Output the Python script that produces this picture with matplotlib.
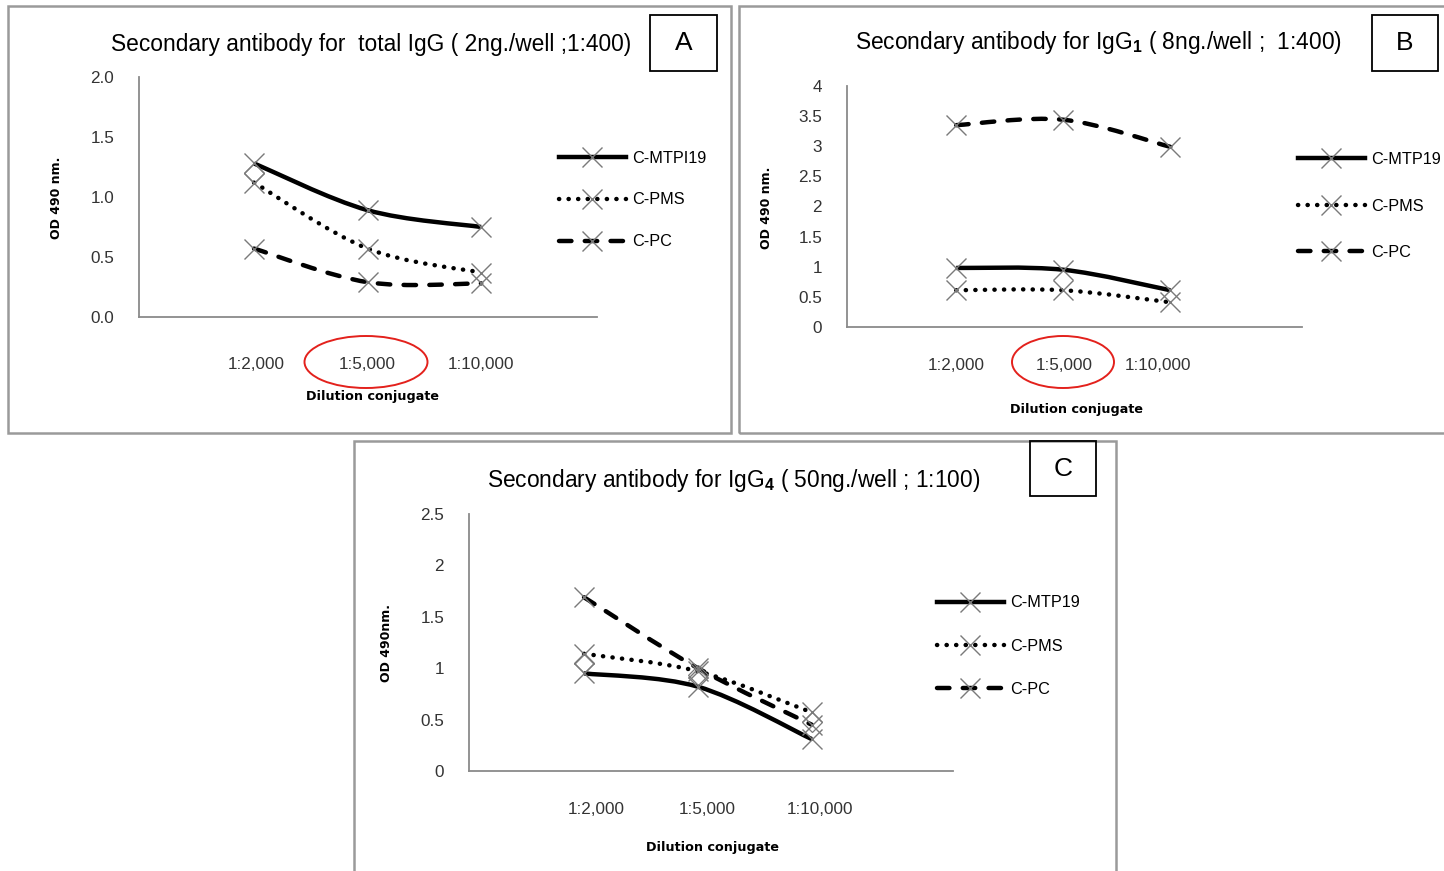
import numpy as np
import matplotlib
matplotlib.use("Agg")
import matplotlib.pyplot as plt
from matplotlib.path import Path
from matplotlib.patches import PathPatch, Rectangle, Ellipse
from matplotlib.lines import Line2D
from matplotlib.transforms import ScaledTranslation

plt.rcParams['font.family'] = ['Liberation Sans', 'DejaVu Sans']
plt.rcParams['mathtext.fontset'] = 'custom'
plt.rcParams['mathtext.rm'] = 'Liberation Sans'
plt.rcParams['mathtext.bf'] = 'Liberation Sans:bold'

dilutions = ['1:2,000', '1:5,000', '1:10,000']

# OD 490 nm readings, panel A (total IgG)
a_mtpi19 = [1.28, 0.89, 0.75]
a_pms = [1.12, 0.57, 0.37]
a_pc = [0.57, 0.29, 0.28]
a_extra = [1.20, None, None]

# panel B (IgG1)
b_mtp19 = [0.98, 0.95, 0.61]
b_pms = [0.61, 0.61, 0.41]
b_pc = [3.35, 3.44, 2.99]

# panel C (IgG4)
c_mtp19 = [0.95, 0.82, 0.31]
c_pms = [1.14, 0.97, 0.57]
c_pc = [1.69, 1.00, 0.45]
c_extra = [1.05, 0.93, 0.48]

W, H = 1444, 871
fig = plt.figure(figsize=(W / 100, H / 100), dpi=100)
fig.patch.set_facecolor('white')

styles = {
    'solid': dict(linestyle='-', capstyle='butt'),
    'dot': dict(linestyle=(0, (0.05, 2.1)), capstyle='round'),
    'dash': dict(linestyle=(0, (2.8, 3.0)), capstyle='round'),
}
LW = 3.2
MARK = dict(marker='x', markersize=14, markeredgewidth=1.0, markeredgecolor='#7a7a7a')
TITLE_FS = 16.4
TICK_FS = 12.3
LEG_FS = 11.7


def px_rect(l, t, r, b):
    return [l / W, 1 - b / H, (r - l) / W, (b - t) / H]


def smooth_path(xs, ys):
    pts = np.column_stack([xs, ys]).astype(float)
    n = len(pts)
    verts = [pts[0]]
    codes = [Path.MOVETO]
    for i in range(n - 1):
        p0 = pts[max(i - 1, 0)]
        p1 = pts[i]
        p2 = pts[i + 1]
        p3 = pts[min(i + 2, n - 1)]
        verts += [p1 + (p2 - p0) / 6, p2 - (p3 - p1) / 6, p2]
        codes += [Path.CURVE4] * 3
    return Path(verts, codes)


def draw_series(ax, ys, style):
    xs = np.arange(len(ys))
    patch = PathPatch(smooth_path(xs, ys), fill=False, edgecolor='black',
                      linewidth=LW, joinstyle='round', **styles[style])
    ax.add_patch(patch)
    ax.plot(xs, ys, linestyle='none', zorder=3, **MARK)


def legend_handle(style):
    s = styles[style]
    return Line2D([], [], color='black', linewidth=LW, linestyle=s['linestyle'],
                  dash_capstyle=s['capstyle'], **MARK)


def panel(rect, xlim, ylim, yticks, ylabels, xpad, series, names, leg_xy, leg_space,
          label_shift=(0, 0, 0)):
    ax = fig.add_axes(px_rect(*rect))
    for ys, st in series:
        draw_series(ax, ys, st)
    ax.set_xlim(*xlim)
    ax.set_ylim(*ylim)
    ax.set_xticks([0, 1, 2], dilutions)
    ax.set_yticks(yticks, ylabels)
    ax.tick_params(length=0, labelsize=TICK_FS, labelcolor='#333333')
    ax.tick_params(axis='x', pad=xpad)
    ax.tick_params(axis='y', pad=18)
    # nudge category labels sideways
    for lab, dx in zip(ax.get_xticklabels(), label_shift):
        lab.set_transform(lab.get_transform() + ScaledTranslation(dx / 100, 0, fig.dpi_scale_trans))
    for side in ('top', 'right'):
        ax.spines[side].set_visible(False)
    for side in ('left', 'bottom'):
        ax.spines[side].set_color('#8a8a8a')
        ax.spines[side].set_linewidth(1.3)
    handles = [legend_handle(st) for _, st in series[:3]]
    ax.legend(handles, names, loc='center left', numpoints=1,
              bbox_to_anchor=(leg_xy[0] / W, 1 - leg_xy[1] / H),
              bbox_transform=fig.transFigure, frameon=False, fontsize=LEG_FS,
              handlelength=4.1, handletextpad=0.4, labelspacing=leg_space,
              borderpad=0, borderaxespad=0)
    return ax


def frame(l, t, r, b, color='#9a9a9a', lw=1.8):
    fig.patches.append(Rectangle((l / W, 1 - b / H), (r - l) / W, (b - t) / H,
                                 transform=fig.transFigure, fill=False,
                                 edgecolor=color, linewidth=lw))


def label_box(l, t, r, b, letter):
    frame(l, t, r, b, color='black', lw=1.3)
    fig.text((l + r) / 2 / W, 1 - (t + b) / 2 / H, letter, ha='center', va='center',
             fontsize=19)


def red_ring(cx, cy, w, h):
    fig.patches.append(Ellipse((cx / W, 1 - cy / H), w / W, h / H,
                               transform=fig.transFigure, fill=False,
                               edgecolor='#e3211c', linewidth=1.4))


def side_labels(ylab, ylab_xy, xlab_xy):
    fig.text(ylab_xy[0] / W, 1 - ylab_xy[1] / H, ylab, rotation=90, ha='center',
             va='center', fontsize=9, fontweight='bold', family='DejaVu Sans')
    fig.text(xlab_xy[0] / W, 1 - xlab_xy[1] / H, 'Dilution conjugate', ha='center',
             va='center', fontsize=9.2, fontweight='bold', family='DejaVu Sans')


# panel outlines
frame(8, 6, 731, 433)
frame(739, 6, 1450, 433)
frame(354, 441, 1116, 880)

# A: total IgG
axA = panel((139, 77, 597, 317), (-1.013, 3.02), (0, 2.0),
            [0, 0.5, 1.0, 1.5, 2.0], ['0.0', '0.5', '1.0', '1.5', '2.0'], 28.5,
            [(a_mtpi19, 'solid'), (a_pms, 'dot'), (a_pc, 'dash')],
            ['C-MTPI19', 'C-PMS', 'C-PC'], (559, 200), 1.66, (2, 0, 0))
axA.plot([0, 1, 2], [np.nan if v is None else v for v in a_extra], linestyle='none',
         marker='D', markersize=10, markerfacecolor='none',
         markeredgecolor='#7a7a7a', markeredgewidth=0.9, zorder=2)
fig.text(371 / W, 1 - 44 / H, 'Secondary antibody for  total IgG ( 2ng./well ;1:400)',
         ha='center', va='center', fontsize=TITLE_FS)
label_box(650, 15, 717, 71, 'A')
side_labels('OD 490 nm.', (57, 198), (373, 396))
red_ring(366, 362, 123, 52)

# B: IgG1
axB = panel((847, 86, 1302, 327), (-1.02, 3.23), (0, 4),
            [0, 0.5, 1, 1.5, 2, 2.5, 3, 3.5, 4],
            ['0', '0.5', '1', '1.5', '2', '2.5', '3', '3.5', '4'], 22,
            [(b_mtp19, 'solid'), (b_pms, 'dot'), (b_pc, 'dash')],
            ['C-MTP19', 'C-PMS', 'C-PC'], (1298, 206), 1.94, (0, 1, -12))
fig.text(1099 / W, 1 - 43 / H, r'Secondary antibody for IgG$_\mathbf{1}$ ( 8ng./well ;  1:400)',
         ha='center', va='center', fontsize=TITLE_FS)
label_box(1372, 15, 1438, 71, 'B')
side_labels('OD 490 nm.', (767, 208), (1076, 410))
red_ring(1063, 362, 102, 52)

# C: IgG4
axC = panel((469, 514, 953, 771), (-1.01, 3.24), (0, 2.5),
            [0, 0.5, 1, 1.5, 2, 2.5], ['0', '0.5', '1', '1.5', '2', '2.5'], 22,
            [(c_mtp19, 'solid'), (c_pms, 'dot'), (c_pc, 'dash')],
            ['C-MTP19', 'C-PMS', 'C-PC'], (937, 646), 1.73, (12, 9, 8))
axC.plot([0, 1, 2], c_extra, linestyle='none', marker='D', markersize=10,
         markerfacecolor='none', markeredgecolor='#7a7a7a', markeredgewidth=0.9,
         zorder=2)
fig.text(734 / W, 1 - 480 / H, r'Secondary antibody for IgG$_\mathbf{4}$ ( 50ng./well ; 1:100)',
         ha='center', va='center', fontsize=TITLE_FS)
label_box(1030, 441, 1096, 496, 'C')
side_labels('OD 490nm.', (387, 643), (712, 847))

fig.savefig('out.png', dpi=100, facecolor='white')
